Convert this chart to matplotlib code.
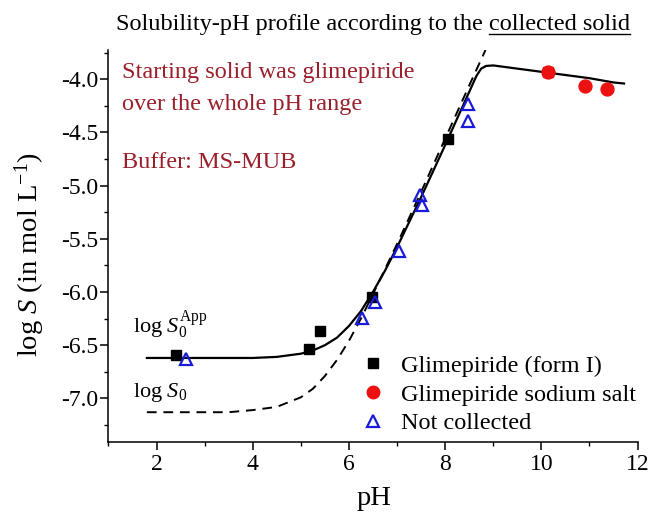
import matplotlib
matplotlib.use("Agg")
import matplotlib.pyplot as plt
from matplotlib.lines import Line2D
from matplotlib.ticker import MultipleLocator

plt.rcParams['font.family'] = ['Liberation Serif', 'DejaVu Serif']
plt.rcParams['mathtext.fontset'] = 'custom'
plt.rcParams['mathtext.rm'] = 'Liberation Serif'
plt.rcParams['mathtext.it'] = 'Liberation Serif:italic'
plt.rcParams['axes.unicode_minus'] = False

# ---- data ----
form1_ph = [2.41, 5.17, 5.40, 6.48, 8.05]
form1_logs = [-6.59, -6.54, -6.37, -6.05, -4.56]

salt_ph = [10.14, 10.91, 11.36]
salt_logs = [-3.93, -4.06, -4.09]

notcol_ph = [2.62, 6.27, 6.54, 7.04, 7.48, 7.52, 8.48, 8.48]
notcol_logs = [-6.63, -6.24, -6.09, -5.61, -5.09, -5.18, -4.23, -4.39]

# fitted curve with apparent intrinsic solubility (solid)
fit_app_ph = [1.8, 3.0, 4.0, 4.5, 5.0, 5.25, 5.5, 5.75, 6.0, 6.25, 6.5, 6.75,
              7.0, 7.5, 8.0, 8.5, 8.65, 8.75, 8.85, 9.0, 9.5, 10.0, 10.5, 11.0,
              11.5, 11.72]
fit_app_logs = [-6.62, -6.62, -6.62, -6.61, -6.58, -6.55, -6.50, -6.43, -6.32,
                -6.18, -6.00, -5.80, -5.58, -5.11, -4.62, -4.12, -3.97, -3.90,
                -3.875, -3.87, -3.90, -3.93, -3.96, -3.99, -4.03, -4.04]

# intrinsic solubility curve (dashed)
fit_s0_ph = [1.8, 3.0, 3.5, 4.0, 4.5, 5.0, 5.25, 5.5, 5.75, 6.0, 6.25, 6.5,
             7.0, 7.5, 8.0, 8.5, 8.84]
fit_s0_logs = [-7.13, -7.13, -7.13, -7.11, -7.08, -6.99, -6.91, -6.79, -6.64,
               -6.46, -6.25, -6.02, -5.55, -5.06, -4.56, -4.06, -3.725]

xticks = [2, 4, 6, 8, 10, 12]
yticks = [-7.0, -6.5, -6.0, -5.5, -5.0, -4.5, -4.0]

W, H = 651, 515
fig = plt.figure(figsize=(W/100, H/100), dpi=100)
ax_l, ax_r, ax_t, ax_b = 108.4, 637.5, 50, 442
ax = fig.add_axes([ax_l/W, 1-ax_b/H, (ax_r-ax_l)/W, (ax_b-ax_t)/H])

ax.plot(fit_app_ph, fit_app_logs, color='black', lw=1.6, zorder=2)
ax.plot(fit_s0_ph, fit_s0_logs, color='black', lw=1.4, ls=(0, (5, 3.5)), zorder=2)

ax.plot(form1_ph, form1_logs, ls='none', marker='s', ms=7.3, color='black', zorder=3)
ax.plot([salt_ph[0]], [salt_logs[0]], ls='none', marker='s', ms=7.3, color='#d81e1e', zorder=3)
ax.plot(salt_ph, salt_logs, ls='none', marker='o', ms=9.3, color='#ee1111', zorder=4)
ax.plot(notcol_ph, notcol_logs, ls='none', marker='^', ms=8.3, mfc='none', mec='#1a1adb',
        mew=1.6, zorder=5)

ax.set_xlim(1, 12)
ax.set_ylim(-7.41, -3.725)
ax.set_xticks(xticks)
ax.set_yticks(yticks)
ax.set_yticklabels([f"{v:.1f}" for v in yticks])
ax.xaxis.set_minor_locator(MultipleLocator(1))
ax.yaxis.set_minor_locator(MultipleLocator(0.25))
ax.tick_params(which='major', direction='out', length=5.5, width=1.1, labelsize=17)
ax.tick_params(axis='y', which='major', pad=2)
ax.tick_params(axis='x', which='major', pad=3)
ax.tick_params(which='minor', direction='out', length=3, width=1.0)
for s in ['top', 'right']:
    ax.spines[s].set_visible(False)
for s in ['left', 'bottom']:
    ax.spines[s].set_linewidth(1.1)

ax.set_xlabel('pH', fontsize=20.5)
ax.set_ylabel(r'log $S$ (in mol L$^{-1}$)', fontsize=20.5)
ax.xaxis.set_label_coords((374-ax_l)/(ax_r-ax_l), 1-(486-ax_t)/(ax_b-ax_t))
ax.yaxis.set_label_coords((47-ax_l)/(ax_r-ax_l), 1-(255-ax_t)/(ax_b-ax_t))

dark_red = '#9a1f2a'
ax.text(0.026, 0.929, 'Starting solid was glimepiride', transform=ax.transAxes,
        color=dark_red, fontsize=17.5, va='baseline', ha='left')
ax.text(0.026, 0.847, 'over the whole pH range', transform=ax.transAxes,
        color=dark_red, fontsize=17.5, va='baseline', ha='left')
ax.text(0.026, 0.699, 'Buffer: MS-MUB', transform=ax.transAxes,
        color=dark_red, fontsize=17.5, va='baseline', ha='left')

ax.text(1.51, -6.387, r'log $S_0^{\mathrm{App}}$', fontsize=16, va='baseline', ha='left')
ax.text(1.51, -6.99, r'log $S_0$', fontsize=16, va='baseline', ha='left')

handles = [
    Line2D([], [], ls='none', marker='s', ms=6.5, color='black'),
    Line2D([], [], ls='none', marker='o', ms=9, color='#ee1111'),
    Line2D([], [], ls='none', marker='^', ms=8, mfc='none', mec='#1a1adb', mew=1.6),
]
labels = ['Glimepiride (form I)', 'Glimepiride sodium salt', 'Not collected']
ax.legend(handles, labels, loc='upper left', bbox_to_anchor=(0.4775, 0.222),
          frameon=False, fontsize=17.5, handlelength=1.0, handletextpad=0.66,
          labelspacing=0.27, borderpad=0, borderaxespad=0)

# title with underlined part, centred over the axes
title_a = 'Solubility-pH profile according to the '
title_b = 'collected solid'
tfs = 17.5
t1 = fig.text(0, 1-30/H, title_a, fontsize=tfs, va='baseline', ha='left')
t2 = fig.text(0, 1-30/H, title_b, fontsize=tfs, va='baseline', ha='left')
fig.canvas.draw()
r = fig.canvas.get_renderer()
w1 = t1.get_window_extent(r).width
w2 = t2.get_window_extent(r).width
x0 = (ax_l + ax_r)/2 - (w1 + w2)/2
t1.set_x(x0/W)
t2.set_x((x0 + w1)/W)
uy = 1 - 33.5/H
fig.add_artist(Line2D([(x0 + w1)/W, (x0 + w1 + w2)/W], [uy, uy], color='black', lw=1.0,
                      transform=fig.transFigure))

fig.savefig('out.png', dpi=100)
